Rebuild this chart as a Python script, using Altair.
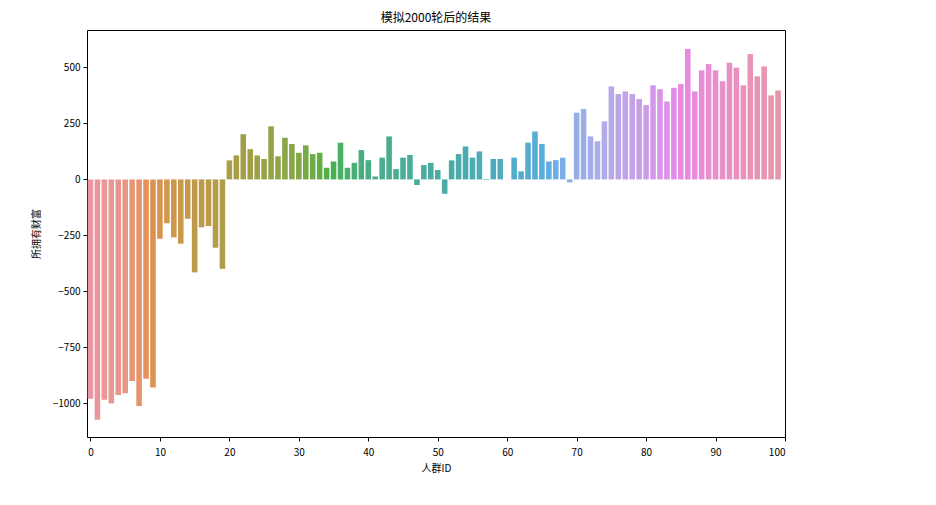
import colorsys
import math
import altair as alt
import pandas as pd

# ---- data ----
person_ids = list(range(100))
wealth = [
    -979, -1073, -984, -1001, -963, -955, -900, -1012, -890, -929,
    -265, -196, -259, -287, -176, -415, -214, -208, -305, -399,
    85, 107, 202, 135, 107, 91, 237, 103, 186, 158,
    119, 152, 113, 119, 52, 80, 164, 52, 74, 131,
    86, 13, 97, 192, 46, 97, 109, -25, 64, 74,
    42, -64, 85, 113, 147, 97, 125, -3, 91, 91,
    0, 97, 36, 164, 214, 158, 80, 86, 97, -13,
    298, 314, 192, 170, 259, 415, 381, 393, 381, 359,
    332, 420, 403, 348, 409, 426, 582, 393, 487, 515,
    487, 438, 521, 499, 420, 560, 460, 504, 375, 397,
]
x_ticks = list(range(0, 101, 10))
y_ticks = [-1000, -750, -500, -250, 0, 250, 500]

# ---- seaborn-like husl palette (style only) ----
_m = [[3.2406, -1.5372, -0.4986], [-0.9689, 1.8758, 0.0415], [0.0557, -0.2040, 1.0570]]
_refU, _refV, _kappa, _eps = 0.19784, 0.46834, 903.29629, 0.0088564


def _max_chroma(L, H):
    hrad = math.radians(H)
    sinH, cosH = math.sin(hrad), math.cos(hrad)
    sub1 = (L + 16) ** 3 / 1560896.0
    sub2 = sub1 if sub1 > _eps else L / _kappa
    result = float("inf")
    for m1, m2, m3 in _m:
        top = (0.99915 * m1 + 1.05122 * m2 + 1.14460 * m3) * sub2
        rb = 0.86330 * m3 - 0.17266 * m2
        lb = 0.12949 * m3 - 0.38848 * m1
        bottom = (rb * sinH + lb * cosH) * sub2
        for t in (0.0, 1.0):
            C = L * (top - 1.05122 * t) / (bottom + 0.17266 * sinH * t)
            if 0 < C < result:
                result = C
    return result


def _husl_to_rgb(H, S, L):
    C = _max_chroma(L, H) / 100.0 * S
    hrad = math.radians(H)
    U, V = math.cos(hrad) * C, math.sin(hrad) * C
    Y = ((L + 16) / 116.0) ** 3 if L > 8 else L / _kappa
    vu = U / (13 * L) + _refU
    vv = V / (13 * L) + _refV
    X = 0 - (9 * Y * vu) / ((vu - 4) * vv - vu * vv)
    Z = (9 * Y - 15 * vv * Y - vv * X) / (3 * vv)
    out = []
    for row in _m:
        c = row[0] * X + row[1] * Y + row[2] * Z
        c = 12.92 * c if c <= 0.0031308 else 1.055 * c ** (1 / 2.4) - 0.055
        out.append(min(max(c, 0.0), 1.0))
    return out


def _palette(n):
    cols = []
    for i in range(n):
        h = ((i / n) + 0.01) % 1 * 359
        r, g, b = _husl_to_rgb(h, 0.9 * 99, 0.7 * 99)
        hh, ll, ss = colorsys.rgb_to_hls(r, g, b)
        r, g, b = colorsys.hls_to_rgb(hh, ll, ss * 0.75)
        cols.append("#%02x%02x%02x" % tuple(int(round(v * 255)) for v in (r, g, b)))
    return cols


colors = _palette(len(person_ids))

df = pd.DataFrame({"id": person_ids, "wealth": wealth})

font = "Noto Sans CJK SC"

chart = (
    alt.Chart(df)
    .transform_calculate(x0="datum.id - 0.4", x1="datum.id + 0.4")
    .mark_bar()
    .encode(
        x=alt.X(
            "x0:Q",
            scale=alt.Scale(domain=[-0.5, 100], nice=False, zero=False),
            axis=alt.Axis(values=x_ticks, title="人群ID", format="d"),
        ),
        x2="x1:Q",
        y=alt.Y(
            "wealth:Q",
            scale=alt.Scale(domain=[-1150, 667], nice=False),
            axis=alt.Axis(values=y_ticks, title="所拥有财富", format="d"),
        ),
        y2=alt.datum(0),
        color=alt.Color(
            "id:O",
            scale=alt.Scale(domain=person_ids, range=colors),
            legend=None,
        ),
    )
    .properties(
        width=698,
        height=407,
        title=alt.TitleParams("模拟2000轮后的结果", font=font, fontSize=12,
                              fontWeight="normal", color="black", offset=5),
        padding={"left": 79, "top": 22, "right": 20, "bottom": 50},
        autosize="none",
    )
    .configure_view(stroke="black", strokeWidth=1)
    .configure_axis(
        domain=False,
        grid=False,
        tickColor="black",
        tickSize=4,
        labelFont=font,
        labelFontSize=10,
        labelColor="black",
        labelPadding=3,
        titleFont=font,
        titleFontSize=10,
        titleFontWeight="normal",
        titleColor="black",
    )
    .configure_axisX(labelPadding=6, titlePadding=6)
    .configure_axisY(titlePadding=11)
)

chart.save("out.html", embed_options={"renderer": "svg", "actions": False})
